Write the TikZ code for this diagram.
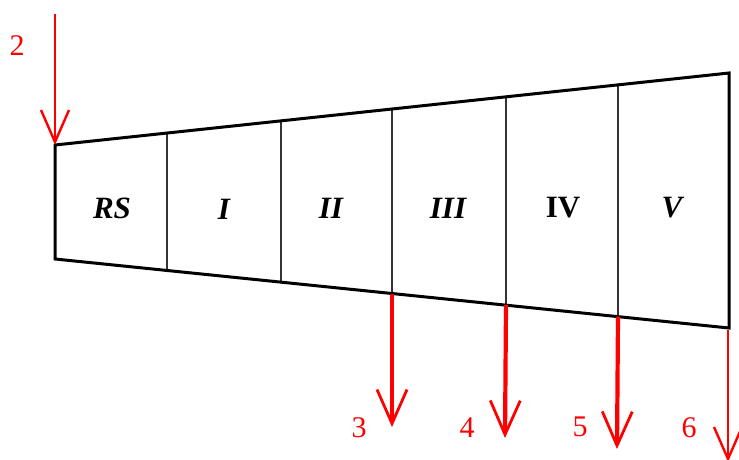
\documentclass[tikz,border=0pt]{standalone}
\usepackage{fontspec}
\setmainfont{Liberation Serif}
\usetikzlibrary{arrows.meta}
\begin{document}
\begin{tikzpicture}[x=1pt,y=-1pt,
  outline/.style={line width=3pt,line join=miter},
  divider/.style={line width=1.1pt,draw=black!80},
  flow/.style={draw=red,line width=4.2pt,-{Straight Barb[length=34pt,width=30pt,line width=2.8pt]}},
  thinflow/.style={draw=red,line width=2.4pt,-{Straight Barb[length=32pt,width=28pt,line width=2.4pt]}},
  cell/.style={font=\fontsize{31}{32}\selectfont\bfseries\itshape},
  num/.style={text=red,font=\fontsize{30}{31}\selectfont},
]
\useasboundingbox (0,0) rectangle (739,459);
\coordinate (TL) at (55,145);
\coordinate (BL) at (55,259);
\coordinate (TR) at (729,73);
\coordinate (BR) at (729,328);
% dividers
\foreach \x/\n in {167/a,281/b,392/c,506/d,618/e}{
  \coordinate (t\n) at ({\x},{145-0.10682*(\x-55)});
  \coordinate (b\n) at ({\x},{259+0.10237*(\x-55)});
  \draw[divider] (t\n) -- (b\n);
}
\draw[outline] (TL) -- (TR) -- (BR) -- (BL) -- cycle;
% labels
\node[cell] (rs) at (112,208) {RS};
\node[cell] (i) at (224,209) {I};
\node[cell] (ii) at (331,208) {II};
\node[cell] (iii) at (448,208) {III};
\node[cell,font=\fontsize{31}{32}\selectfont\bfseries] (iv) at (563,208) {IV};
\node[cell] (v) at (672,208) {V};
% arrows
\coordinate (s2) at (55,14);
\coordinate (e3) at (392,427);
\coordinate (e4) at (505,438);
\coordinate (e5) at (617,449);
\coordinate (e6) at (728,462);
\coordinate (b6) at (728,330);
\draw[thinflow] (s2) -- (TL);
\draw[flow] (bc) -- (e3);
\draw[flow] (bd) -- (e4);
\draw[flow] (be) -- (e5);
\draw[thinflow,line width=2.8pt] (b6) -- (e6);
% numbers
\node[num] (n2) at (17,46) {2};
\node[num] (n3) at (359,428) {3};
\node[num] (n4) at (467,428) {4};
\node[num] (n5) at (580,427) {5};
\node[num] (n6) at (689,428) {6};
\end{tikzpicture}
\end{document}
